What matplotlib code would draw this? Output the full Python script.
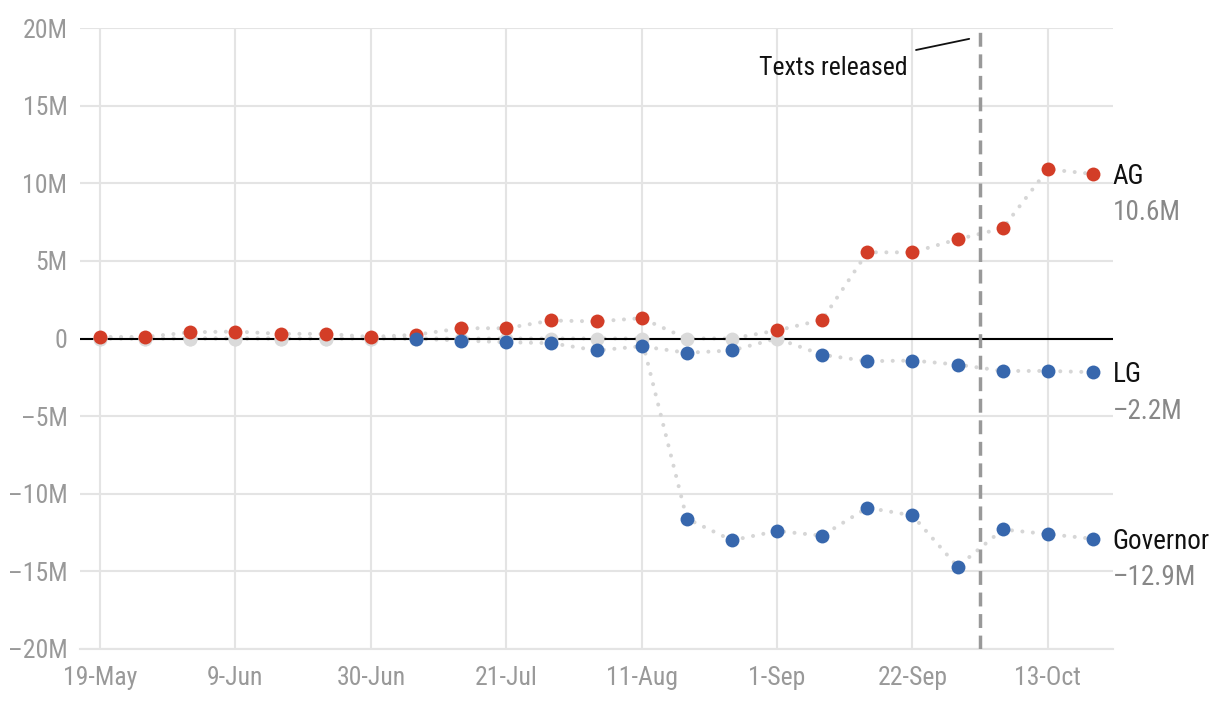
import numpy as np
import pandas as pd
import matplotlib
matplotlib.use("Agg")
import matplotlib.pyplot as plt

dates = pd.date_range("2021-05-19", periods=23, freq="7D")
ag = [0.1, 0.1, 0.4, 0.45, 0.3, 0.3, 0.1, 0.24, 0.66, 0.66, 1.16, 1.1, 1.31,
      0, 0, 0.52, 1.2, 5.55, 5.55, 6.39, 7.1, 10.9, 10.6]
lg = [0, 0, 0, 0, 0, 0, 0, -0.02, -0.13, -0.24, -0.3, -0.77, -0.5, -0.92,
      -0.77, 0, -1.05, -1.46, -1.42, -1.68, -2.09, -2.09, -2.17]
gov = [0] * 13 + [-11.6, -13.0, -12.4, -12.7, -10.9, -11.4, -14.7, -12.3, -12.6, -12.9]
series = [("AG", ag, "#d33d27", "10.6M"), ("Governor", gov, "#3767ad", "\u201312.9M"),
          ("LG", lg, "#3767ad", "\u20132.2M")]
yticks = [-20, -15, -10, -5, 0, 5, 10, 15, 20]
ytick_labels = ["\u201320M", "\u201315M", "\u201310M", "\u20135M", "0", "5M", "10M", "15M", "20M"]
xtick_labels = ["19-May", "9-Jun", "30-Jun", "21-Jul", "11-Aug", "1-Sep", "22-Sep", "13-Oct"]
xtick_dates = pd.to_datetime(["2021-05-19", "2021-06-09", "2021-06-30", "2021-07-21",
                              "2021-08-11", "2021-09-01", "2021-09-22", "2021-10-13"])
release_date = pd.Timestamp("2021-10-02 12:00")

plt.rcParams['font.family'] = ['Roboto Condensed', 'Roboto', 'DejaVu Sans']

fig = plt.figure(figsize=(12.2, 7.08), dpi=100)
ax = fig.add_axes([80 / 1220, 59 / 708, (1113 - 80) / 1220, (649 - 28) / 708])

ax.set_ylim(-20, 20)
ax.set_xlim(dates[0] - pd.Timedelta(days=3.1), dates[-1] + pd.Timedelta(days=3.1))

ax.set_yticks(yticks)
ax.set_yticklabels(ytick_labels)
ax.set_xticks(xtick_dates)
ax.set_xticklabels(xtick_labels)
ax.grid(True, color="#e4e4e4", linewidth=1.5, zorder=0)
ax.tick_params(axis="both", length=0, labelsize=18.5, labelcolor="#999999")
ax.tick_params(axis="y", pad=9)
ax.tick_params(axis="x", pad=12)
for s in ["top", "right", "left"]:
    ax.spines[s].set_visible(False)
ax.spines["bottom"].set_color("#e4e4e4")
ax.spines["bottom"].set_linewidth(1.5)
ax.axhline(0, color="black", linewidth=1.5, zorder=3.5)

# lines
for name, vals, col, lab in series:
    ax.plot(dates, vals, linestyle=(0, (0.01, 2.6)), color="#d6d6d6", linewidth=2.9,
            dash_capstyle="round", zorder=3)
# gray dots for zero values
for name, vals, col, lab in series:
    v = np.array(vals, dtype=float)
    m = v == 0
    ax.plot(dates[m], v[m], "o", color="#dadada", markersize=10, markeredgewidth=0, zorder=4)
for name, vals, col, lab in series:
    v = np.array(vals, dtype=float)
    m = v != 0
    ax.plot(dates[m], v[m], "o", color=col, markersize=10, markeredgewidth=0, zorder=5)
    ax.annotate(name, (dates[-1], v[-1]), xytext=(14, -2), textcoords="offset points",
                ha="left", va="center", fontsize=19.5, color="#111111", annotation_clip=False)
    ax.annotate(lab, (dates[-1], v[-1]), xytext=(14, -28), textcoords="offset points",
                ha="left", va="center", fontsize=19.5, color="#888888", annotation_clip=False)

ax.axvline(release_date, color="#999999", linewidth=2.5, linestyle=(0, (4, 2.2)), zorder=6)
ax.text(908, 633, "Texts released", transform=None, ha="right", va="baseline",
        fontsize=18.5, color="#111111")
ax.annotate("", xy=(release_date - pd.Timedelta(days=1.7), 19.3),
            xytext=(916, 658), textcoords="figure pixels",
            arrowprops=dict(arrowstyle="-", color="#111111", linewidth=1.3,
                            shrinkA=0, shrinkB=0))

fig.savefig("out.png", dpi=100)
